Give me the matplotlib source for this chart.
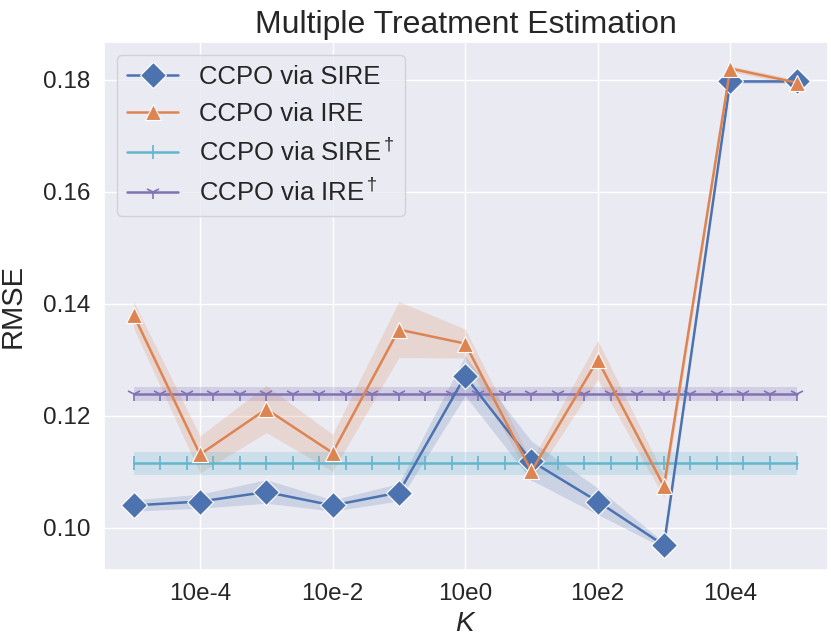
import numpy as np
import matplotlib
matplotlib.use('Agg')
import matplotlib.pyplot as plt
import seaborn as sns

#style first, fonts after (set_theme resets font.family)
sns.set_theme(style='darkgrid')
plt.rcParams['font.family'] = ['Liberation Sans', 'DejaVu Sans']
plt.rcParams['mathtext.fontset'] = 'custom'
plt.rcParams['mathtext.rm'] = 'Liberation Sans'
plt.rcParams['mathtext.it'] = 'Liberation Sans:italic'

#log10 of K for each run
k = [-5, -4, -3, -2, -1, 0, 1, 2, 3, 4, 5]
tick_pos = [-4, -2, 0, 2, 4]
tick_lab = ['10e-4', '10e-2', '10e0', '10e2', '10e4']

#CCPO via SIRE
sire = [0.1040, 0.1047, 0.1064, 0.1040, 0.1063, 0.1271, 0.1119, 0.1047, 0.0969, 0.1797, 0.1797]
sire_lo = [0.1030, 0.1035, 0.1044, 0.1030, 0.1048, 0.1236, 0.1085, 0.1024, 0.0964, 0.1794, 0.1794]
sire_hi = [0.1050, 0.1060, 0.1086, 0.1050, 0.1079, 0.1307, 0.1155, 0.1071, 0.0974, 0.1800, 0.1800]

#CCPO via IRE
ire = [0.1380, 0.1131, 0.1212, 0.1134, 0.1354, 0.1329, 0.1101, 0.1300, 0.1074, 0.1820, 0.1795]
ire_lo = [0.1356, 0.1098, 0.1170, 0.1101, 0.1304, 0.1303, 0.1083, 0.1265, 0.1054, 0.1815, 0.1790]
ire_hi = [0.1404, 0.1164, 0.1254, 0.1167, 0.1404, 0.1355, 0.1119, 0.1335, 0.1094, 0.1825, 0.1800]

#dagger variants: flat reference levels, sampled on a finer grid
k_fine = [-5.0, -4.6, -4.2, -3.8, -3.4, -3.0, -2.6, -2.2, -1.8, -1.4, -1.0, -0.6, -0.2,
          0.2, 0.6, 1.0, 1.4, 1.8, 2.2, 2.6, 3.0, 3.4, 3.8, 4.2, 4.6, 5.0]
sire_dag, sire_dag_ci = 0.1115, 0.0020
ire_dag, ire_dag_ci = 0.1239, 0.0012

pal = sns.color_palette('deep')
c_sire, c_ire, c_sd, c_id = pal[0], pal[1], pal[9], pal[4]

fig = plt.figure(figsize=(8.31, 6.41), dpi=100)
ax = fig.add_axes([0.125, 0.111, 0.871, 0.824])

ax.fill_between(k, sire_lo, sire_hi, color=c_sire, alpha=0.2, lw=0)
ax.plot(k, sire, color=c_sire, marker='D', ms=13, mec='white', mew=0.8, lw=1.8,
        label='CCPO via SIRE', zorder=4)
ax.fill_between(k, ire_lo, ire_hi, color=c_ire, alpha=0.2, lw=0)
ax.plot(k, ire, color=c_ire, marker='^', ms=12, mec='white', mew=0.8, lw=1.8,
        label='CCPO via IRE', zorder=5)

n = len(k_fine)
ax.fill_between(k_fine, [sire_dag - sire_dag_ci] * n, [sire_dag + sire_dag_ci] * n,
                color=c_sd, alpha=0.22, lw=0)
ax.plot(k_fine, [sire_dag] * n, color=c_sd, marker='|', ms=10, mew=1.2, lw=1.8,
        label=r'CCPO via SIRE$^\dagger$', zorder=3)
ax.fill_between(k_fine, [ire_dag - ire_dag_ci] * n, [ire_dag + ire_dag_ci] * n,
                color=c_id, alpha=0.22, lw=0)
ax.plot(k_fine, [ire_dag] * n, color=c_id, marker='1', ms=10, mew=1.2, lw=1.8,
        label=r'CCPO via IRE$^\dagger$', zorder=3)

ax.set_xlim(-5.45, 5.47)
ax.set_ylim(0.0925, 0.1868)
ax.set_xticks(tick_pos)
ax.set_xticklabels(tick_lab)
ax.set_yticks([0.10, 0.12, 0.14, 0.16, 0.18])
ax.set_yticklabels(['0.10', '0.12', '0.14', '0.16', '0.18'])
ax.tick_params(labelsize=17.5)
ax.set_xlabel(r'$K$', fontsize=20)
ax.set_ylabel('RMSE', fontsize=21, labelpad=12)
ax.set_title('Multiple Treatment Estimation', fontsize=23)
ax.legend(loc='upper left', fontsize=18.5)

fig.savefig('out.png', dpi=100)
